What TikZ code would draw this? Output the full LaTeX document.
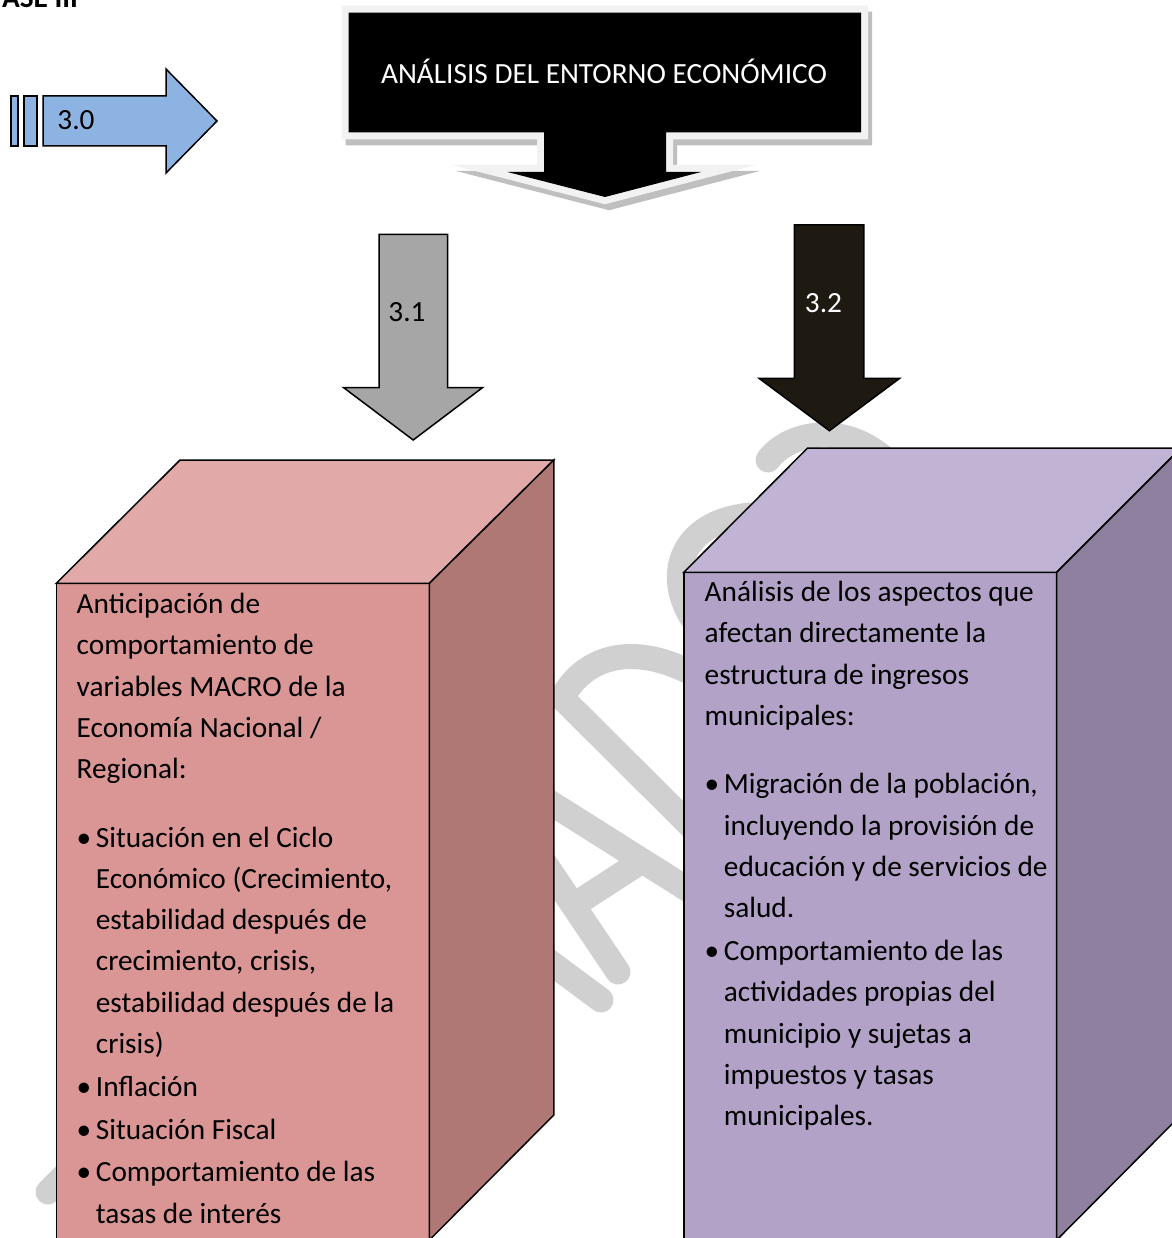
\documentclass[tikz,border=0pt]{standalone}
\usepackage{fontspec}
\setmainfont{Carlito}
\definecolor{wmgray}{HTML}{D0D0D0}
\definecolor{framegray}{HTML}{F2F2F2}
\definecolor{shadowgray}{HTML}{BFBFBF}
\definecolor{blue30}{HTML}{8DB3E2}
\definecolor{gray31}{HTML}{A6A6A6}
\definecolor{dark32}{HTML}{1E1A12}
\definecolor{pinkfront}{HTML}{D99694}
\definecolor{pinktop}{HTML}{E1A9A8}
\definecolor{pinkside}{HTML}{AF7874}
\definecolor{purpfront}{HTML}{B2A2C7}
\definecolor{purptop}{HTML}{C1B3D4}
\definecolor{purpside}{HTML}{8F80A0}
\newcommand\itembul{\makebox[19.2pt][l]{•}}
\newcommand\itemind{\hspace*{19.2pt}}
\begin{document}
\begin{tikzpicture}[x=1pt,y=-1pt,
  txt/.style={font=\fontsize{29.3}{41.3}\selectfont, inner sep=0pt},
  outl/.style={draw=black, line width=1.5pt, line join=miter},
  wm/.style={draw=wmgray, line width=25pt, line cap=round, line join=round},
  callout/.style={insert path={(348.6,12.7) -- (861,12.7) -- (861,132.3) -- (666,132.3) -- (666,172) -- (701,172) -- (605,197) -- (507.5,172) -- (544,172) -- (544,132.3) -- (348.6,132.3) -- cycle}}
]
\useasboundingbox (0,0) rectangle (1171,1238);
\fill[white] (0,0) rectangle (1171,1238);

% watermark fragments
\draw[wm] (48,1192) -- (140,1100);
\draw[wm] (500,925) -- (601,1000);
\draw[wm] (470,752) -- (760,935);
\draw[wm] (470,752) -- (618,972);
\draw[wm] (574,905) -- (642,861);
\draw[wm] (562,698) -- (770,905);
\draw[wm] (562,698) .. controls (585,655) and (640,635) .. (720,690);
\draw[wm] (692,618) .. controls (665,575) and (680,522) .. (750,515);
\draw[wm] (768,460) .. controls (790,430) and (855,418) .. (900,475);

% partial heading
\node[font=\bfseries\fontsize{29.3}{35}\selectfont, anchor=base west, inner sep=0pt] (fase) at (-10,7.5) {FASE III};

% arrow 3.0
\draw[outl, fill=blue30] (11,96) rectangle (18,146);
\draw[outl, fill=blue30] (24,96) rectangle (37,146);
\draw[outl, fill=blue30] (43,96) -- (166,96) -- (166,69) -- (217,121) -- (166,173) -- (166,146) -- (43,146) -- cycle;
\node[txt, anchor=base] (l30) at (76,129.3) {3.0};

% callout
\begin{scope}[shift={(4,6)}]
  \path[callout, fill=shadowgray, draw=shadowgray, line width=14pt, line join=miter];
\end{scope}
\path[callout, draw=framegray, line width=14pt, line join=miter];
\path[callout, fill=black];
\node[txt, text=white, anchor=base] (title) at (604,83.5) {ANÁLISIS DEL ENTORNO ECONÓMICO};

% arrow 3.1
\draw[outl, fill=gray31] (379.2,234.3) -- (447.6,234.3) -- (447.6,387.7) -- (482.4,387.7) -- (413.2,440) -- (343.7,387.7) -- (379.2,387.7) -- cycle;
\node[txt, anchor=base] (l31) at (407,321.7) {3.1};

% arrow 3.2
\draw[outl, fill=dark32] (794.3,225) -- (863.9,225) -- (863.9,378.3) -- (899.7,378.3) -- (829.4,430.7) -- (759,378.3) -- (794.3,378.3) -- cycle;
\node[txt, anchor=base, text=white] (l32) at (823.5,312.7) {3.2};

% pink cube
\draw[outl, fill=pinkfront] (56.3,583.3) rectangle (429.4,1242);
\draw[outl, fill=pinktop] (56.3,583.3) -- (180,460) -- (553.8,460) -- (429.4,583.3) -- cycle;
\draw[outl, fill=pinkside] (429.4,583.3) -- (553.8,460) -- (553.8,1115) -- (429.4,1240) -- cycle;

% purple cube
\draw[outl, fill=purpfront] (683.8,572.3) rectangle (1056.7,1242);
\draw[outl, fill=purptop] (683.8,572.3) -- (807.6,448) -- (1181,448) -- (1056.7,572.3) -- cycle;
\draw[outl, fill=purpside] (1056.7,572.3) -- (1181,448) -- (1181,1115) -- (1056.7,1240) -- cycle;

% left text
\node[anchor=base west, inner sep=0pt] (lefttext) at (76.5,613.5) {\parbox[t]{440pt}{\fontsize{29.3}{41.3}\selectfont\raggedright
Anticipación de\\
comportamiento de\\
variables MACRO de la\\
Economía Nacional /\\
Regional:\\[27pt]
\itembul Situación en el Ciclo\\
\itemind Económico (Crecimiento,\\
\itemind estabilidad después de\\
\itemind crecimiento, crisis,\\
\itemind estabilidad después de la\\
\itemind crisis)\\[1.5pt]
\itembul Inflación\\[1.5pt]
\itembul Situación Fiscal\\[1.5pt]
\itembul Comportamiento de las\\
\itemind tasas de interés}};

% right text
\node[anchor=base west, inner sep=0pt] (righttext) at (704.5,601.5) {\parbox[t]{440pt}{\fontsize{29.3}{41.3}\selectfont\raggedright
Análisis de los aspectos que\\
afectan directamente la\\
estructura de ingresos\\
municipales:\\[27pt]
\itembul Migración de la población,\\
\itemind incluyendo la provisión de\\
\itemind educación y de servicios de\\
\itemind salud.\\[1.5pt]
\itembul Comportamiento de las\\
\itemind actividades propias del\\
\itemind municipio y sujetas a\\
\itemind impuestos y tasas\\
\itemind municipales.}};
\end{tikzpicture}
\end{document}
